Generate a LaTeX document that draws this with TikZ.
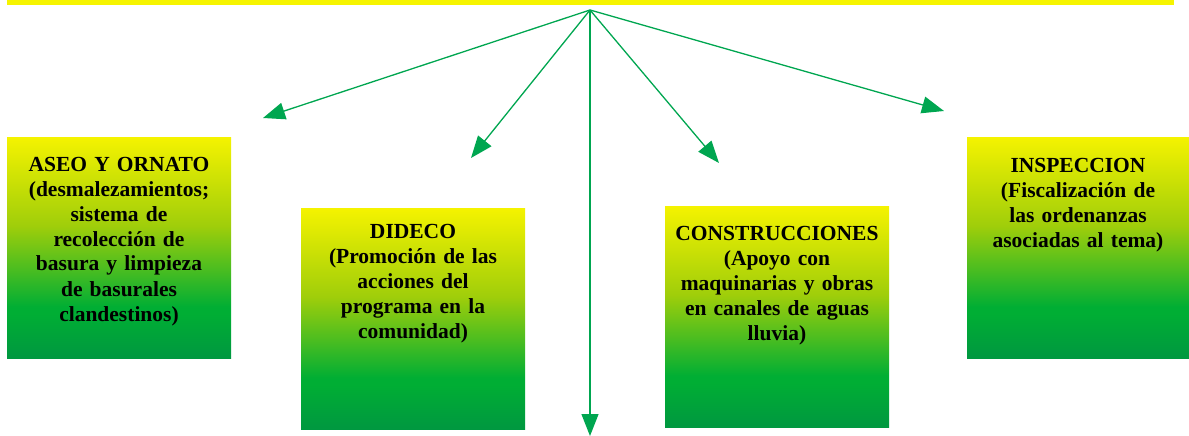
\documentclass[tikz,border=0pt]{standalone}
\usepackage{fontspec}
\setmainfont{Liberation Serif}
\usetikzlibrary{arrows.meta}
\definecolor{topyellow}{RGB}{245,243,0}
\definecolor{ygreen}{RGB}{160,206,10}
\definecolor{midgreen}{RGB}{0,174,52}
\definecolor{botgreen}{RGB}{0,152,64}
\definecolor{arrowgreen}{RGB}{0,166,80}
\definecolor{baryellow}{RGB}{246,244,0}
\pgfdeclareverticalshading{boxgrad}{100bp}{color(0bp)=(botgreen); color(25bp)=(botgreen); color(35bp)=(midgreen); color(36.5bp)=(midgreen); color(55bp)=(ygreen); color(75bp)=(topyellow); color(100bp)=(topyellow)}
\tikzset{
  unitbox/.style={shading=boxgrad, draw=none},
  boxtext/.style={anchor=base, inner sep=0pt, align=center, font=\fontsize{21.5}{25}\selectfont\bfseries, text=black},
  link/.style={draw=arrowgreen, line width=1.3pt, -{Triangle[length=22pt,width=17pt]}}
}
\begin{document}
\begin{tikzpicture}[x=1pt,y=-1pt]
\useasboundingbox (0,0) rectangle (1189,436);
% top bar
\fill[baryellow] (7,0) rectangle (1174,5);
\coordinate (apex) at (590,10);
% boxes
\path[unitbox] (7,137) rectangle (231,358);
\path[unitbox] (301,208) rectangle (525,429);
\path[unitbox] (665,206) rectangle (889,427);
\path[unitbox] (967,137) rectangle (1189,358);
% texts
\node[boxtext, text width=222pt] (aseo) at (119,171) {ASEO Y ORNATO\\(desmalezamientos;\\sistema de\\recolección de\\basura y limpieza\\de basurales\\clandestinos)};
\node[boxtext, text width=222pt] (dideco) at (413,238) {DIDECO\\(Promoción de las\\acciones del\\programa en la\\comunidad)};
\node[boxtext, text width=222pt] (constr) at (777,240) {CONSTRUCCIONES\\(Apoyo con\\maquinarias y obras\\en canales de aguas\\lluvia)};
\node[boxtext, text width=222pt] (insp) at (1078,172) {INSPECCION\\(Fiscalización de\\las ordenanzas\\asociadas al tema)};
% arrow tips
\coordinate (t1) at (263,118);
\coordinate (t2) at (471,158);
\coordinate (t3) at (719,163);
\coordinate (t4) at (944,111);
\coordinate (t5) at (590,436);
\draw[link] (apex) -- (t1);
\draw[link] (apex) -- (t2);
\draw[link] (apex) -- (t3);
\draw[link] (apex) -- (t4);
\draw[link] (apex) -- (t5);
\end{tikzpicture}
\end{document}
